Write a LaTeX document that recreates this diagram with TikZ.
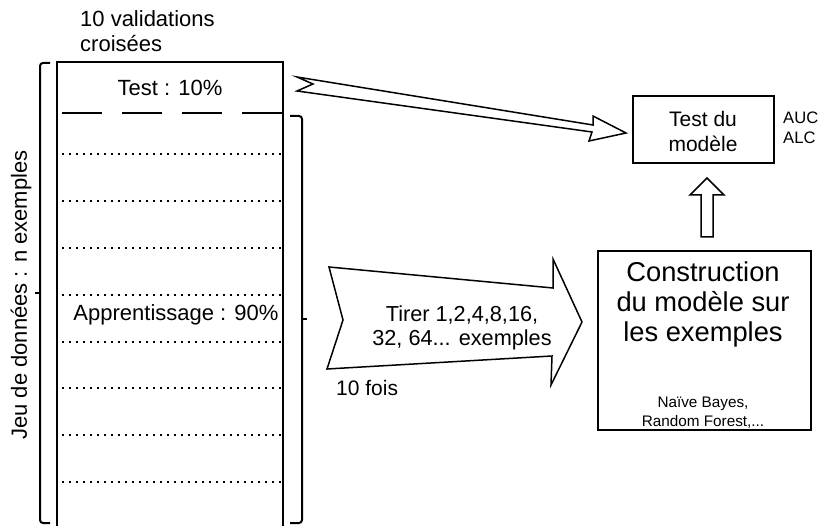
\documentclass[tikz,border=0pt]{standalone}
\usepackage{fontspec}
\setmainfont{Liberation Sans}
\begin{document}
\begin{tikzpicture}[x=1pt, y=-1pt,
    lbl/.style={inner sep=0pt, align=center, font=\fontsize{22}{25}\selectfont},
    bigline/.style={line width=2.5pt},
    bracketline/.style={line width=2pt, rounded corners=3pt},
    blockarrow/.style={draw, fill=white, line width=1.5pt, line join=miter},
    dotline/.style={line width=2.2pt, dash pattern=on 2.2pt off 4.8pt}]
    \useasboundingbox (0,0) rectangle (819,526);

    % jeu de donnees
    \draw[bigline] (57,526)--(57,62)--(283,62)--(283,526);
    \draw[bigline, dash pattern=on 40pt off 20pt] (62,113)--(283,113);
    \foreach \y in {154,201,248,295,342,388,435,482}
      \draw[dotline] (62,\y)--(283,\y);

    \node[lbl, anchor=west, align=left] (cv) at (80,31) {10 validations\\croisées};
    \node[lbl] (test10) at (170,88) {Test : 10\%};
    \node[lbl] (appr) at (176,315) {Apprentissage : 90\%};
    \node[lbl, rotate=90] (jeu) at (21,295) {Jeu de données : n exemples};

    % accolades
    \draw[bracketline] (50,63)--(40,63)--(40,523)--(50,523);
    \draw[line width=1.5pt] (40,293)--(35,293);
    \draw[bracketline] (290,116)--(302,116)--(302,523)--(290,523);
    \draw[line width=1.5pt] (302,319)--(307,319);

    % modele
    \node[draw, bigline, minimum width=141pt, minimum height=67pt, inner sep=0pt] (testbox) at (703.5,129.5) {};
    \node[lbl, font=\fontsize{21}{25}\selectfont] (testtxt) at (703,131) {Test du\\modèle};
    \node[lbl, anchor=west, align=left, font=\fontsize{16.6}{20}\selectfont] (auc) at (783,128) {AUC\\ALC};

    \node[draw, bigline, minimum width=213pt, minimum height=179pt, inner sep=0pt] (build) at (704.5,340.5) {};
    \node[lbl, font=\fontsize{27.3}{30}\selectfont] (buildtxt) at (703,304) {Construction\\du modèle sur\\les exemples};
    \node[lbl, font=\fontsize{15.3}{19}\selectfont] (algos) at (703,413) {Naïve Bayes,\\Random Forest,...};

    % fleches
    \draw[blockarrow] (297,77)--(593,125)--(593,116)--(626,133)--(589,141)--(592,132)--(297,91)--(313,84)--cycle;
    \draw[blockarrow] (701,237)--(701,195)--(690,195)--(707,178)--(724,195)--(713,195)--(713,237)--cycle;
    \draw[blockarrow] (329,267)--(553,288)--(553,259)--(582,322)--(551,385)--(552,356)--(327,369)--(343,320)--cycle;

    \node[lbl, font=\fontsize{21.7}{24}\selectfont] (tirer) at (462,328) {Tirer 1,2,4,8,16,\\32, 64... exemples};
    \node[lbl, anchor=west, font=\fontsize{21}{25}\selectfont] (fois) at (336,388) {10 fois};
\end{tikzpicture}
\end{document}
